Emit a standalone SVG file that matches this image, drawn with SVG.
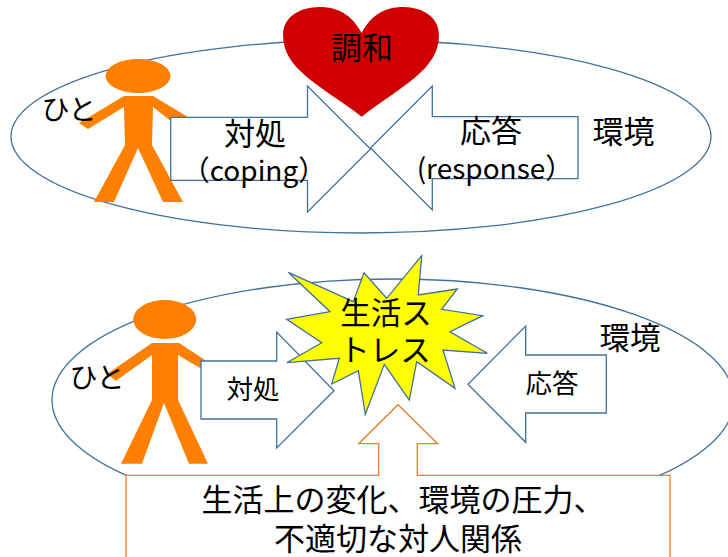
<svg xmlns="http://www.w3.org/2000/svg" width="728" height="557" viewBox="0 0 728 557">
<style>
text{font-family:"Noto Sans CJK JP","Noto Sans",sans-serif;fill:#000;text-anchor:middle}
.env{fill:none;stroke:#41719c;stroke-width:1.3}
.arrow{fill:#fff;stroke:#41719c;stroke-width:1.3}
.person{fill:#ff8000}
.l31{font-size:31px}
.l30{font-size:30.5px}
.l28{font-size:28px}
.l26{font-size:26.5px}
.callout{fill:#fff;stroke:#ed7d31;stroke-width:1.3}
</style>
<rect width="728" height="557" fill="#fff"/>
<g id="top-environment">
<ellipse class="env" cx="361" cy="136.5" rx="350" ry="96.5"/>
<text class="l31" x="623.5" y="142.500">環境</text>
</g>
<g id="top-person">
<ellipse class="person" cx="138" cy="76" rx="32.5" ry="17"/>
<polygon class="person" points="124,96 153,96 188,117 172,122 153,107 152,145 183,202 163,202 138,148 114,202 94,202 125,145 124,107 88,129 79,123"/>
<text class="l28" x="69" y="120">ひと</text>
</g>
<g id="top-harmony">
<path fill="#d00000" d="M361.7,33 C352,15 338,7 320,7 C298,7 283,18 283,35 C283,70 322,86 361.7,116.7 C401,86 439,70 439,35 C439,18 424,7 403,7 C385,7 371,15 361.7,33 Z"/>
<text class="l31" x="362" y="59">調和</text>
</g>
<g id="bottom-environment">
<ellipse class="env" cx="393" cy="400" rx="341" ry="121"/>
<text class="l30" x="630" y="349">環境</text>
</g>
<g id="bottom-person">
<ellipse class="person" cx="164.7" cy="319.5" rx="31.5" ry="19.5"/>
<polygon class="person" points="152,343 179,343 205,360 200,368 178,355 178,400 208,463.7 189,463.7 164,403 142,463.7 121,463.7 152,400 152,355 116,380.7 107,374"/>
<text class="l28" x="97" y="388">ひと</text>
</g>
<g id="connectors">
<polygon class="arrow" points="170.7,117.3 307.5,117.3 307.5,86 370.5,149 307.5,212 307.5,180.3 170.7,180.3"/>
<polygon class="arrow" points="578,116.7 432.3,116.7 432.3,86 370.5,148 432.3,210 432.3,178.7 578,178.7"/>
<text class="l31" x="255" y="145">対処</text>
<text class="l28" x="254" y="181">（coping）</text>
<text class="l31" x="491" y="142">応答</text>
<text class="l28" x="495" y="179">(response）</text>
<polygon class="arrow" points="201,361 276.7,361 276.7,332 334,390.7 276.7,448 276.7,419 201,419"/>
<polygon class="arrow" points="606.3,355 525.7,355 525.7,326 468,384.3 525.7,442.3 525.7,413 606.3,413"/>
<text class="l26" x="253" y="399">対処</text>
<text class="l26" x="552" y="393">応答</text>
</g>
<g id="stress">
<polygon fill="#ffff00" stroke="#41719c" stroke-width="1.3" points="288.3,272.3 353.3,301.7 364,272.7 386.7,298.3 421.7,255.7 418.3,295 457.3,289 441.7,309.3 482.7,315.7 450,331.7 487.3,353.3 443,350 455,388.3 416.7,361.7 409.3,400 384.3,364.3 365.3,414.3 358.3,370.7 331.7,384 339.3,358.3 286.7,362.7 321.7,342.7 286.7,319.3 330,311.7"/>
<text class="l30" x="386" y="324">生活ス</text>
<text class="l30" x="385" y="361">トレス</text>
</g>
<g id="life-changes">
<polygon class="callout" points="126,560 126,475.3 378.7,475.3 378.7,443.7 358.7,443.7 398,404.7 437.7,443.7 417.3,443.7 417.3,475.3 670,475.3 670,560"/>
<text class="l31" x="403" y="511">生活上の変化、環境の圧力、</text>
<text class="l31" x="398" y="550">不適切な対人関係</text>
</g>
</svg>
